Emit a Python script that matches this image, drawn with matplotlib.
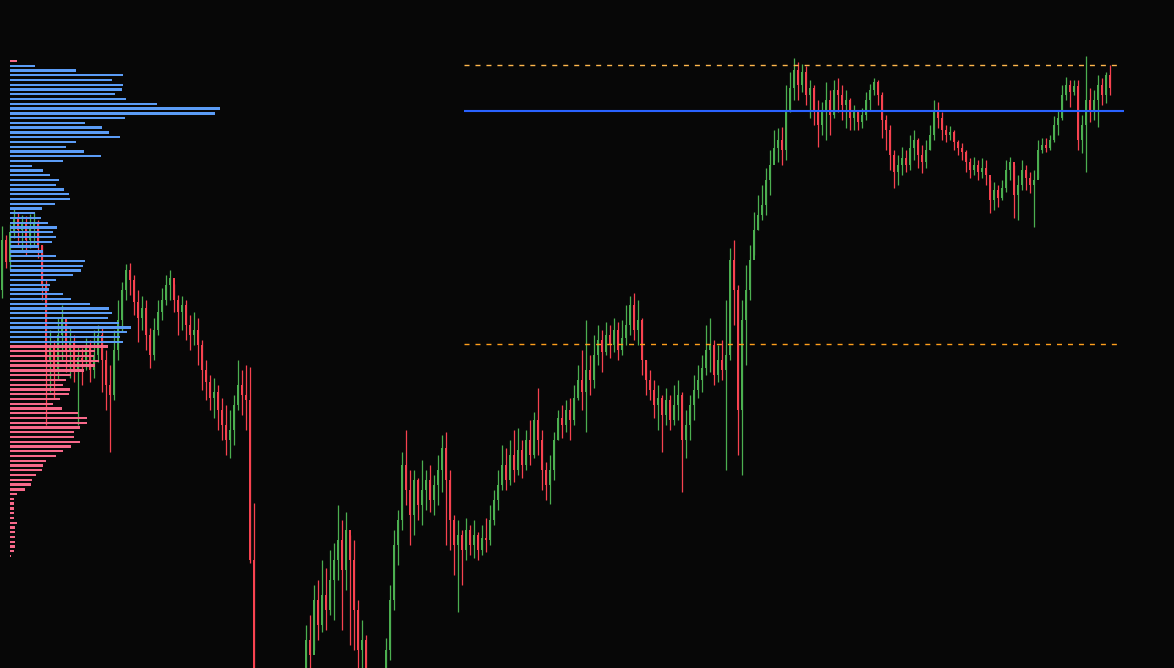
import numpy as np
import matplotlib
matplotlib.use('Agg')
import matplotlib.pyplot as plt

# K线数据 (价格单位任意, 只看形态)
first_open = 710
closes = [760, 738, 768, 782, 770, 778, 760, 772, 778, 755,
          715, 640, 655, 628, 665, 682, 650, 658, 630, 642,
          638, 655, 630, 645, 665, 640, 615, 605, 650, 680,
          710, 730, 720, 698, 682, 692, 665, 645, 670, 688,
          700, 715, 722, 700, 688, 695, 675, 665, 670, 655,
          630, 618, 602, 608, 590, 575, 560, 570, 595, 615,
          605, 600, 440, 310, 300, 290, 295, 285, 300, 310,
          305, 300, 310, 315, 320, 324, 360, 345, 400, 375,
          405, 390, 420, 440, 460, 430, 470, 440, 390, 350,
          360, 310, 300, 290, 305, 310, 350, 400, 455, 480,
          535, 510, 485, 520, 495, 510, 520, 500, 515, 530,
          552, 520, 480, 455, 465, 450, 470, 455, 465, 450,
          462, 460, 480, 500, 515, 535, 520, 545, 530, 550,
          535, 560, 545, 580, 560, 530, 515, 530, 560, 582,
          575, 590, 580, 602, 620, 608, 630, 620, 645, 660,
          648, 665, 655, 670, 650, 662, 675, 695, 670, 680,
          640, 620, 610, 595, 602, 585, 600, 580, 595, 605,
          560, 575, 595, 610, 620, 632, 650, 655, 625, 640,
          630, 645, 740, 710, 590, 680, 710, 740, 770, 785,
          795, 820, 835, 852, 860, 850, 890, 912, 930, 915,
          928, 905, 912, 890, 875, 890, 900, 885, 910, 905,
          895, 900, 882, 888, 878, 885, 900, 910, 918, 905,
          880, 870, 845, 828, 835, 842, 835, 852, 860, 845,
          838, 850, 865, 890, 882, 870, 865, 868, 858, 852,
          848, 838, 830, 835, 828, 832, 825, 800, 810, 802,
          812, 830, 838, 805, 815, 830, 822, 815, 820, 850,
          855, 852, 860, 875, 882, 905, 915, 908, 914, 860,
          875, 900, 890, 900, 915, 905, 925, 912]
highs = [774, 765, 776, 792, 788, 785, 784, 786, 788, 780,
         755, 720, 670, 660, 682, 695, 680, 672, 665, 655,
         652, 662, 660, 670, 675, 672, 650, 635, 670, 700,
         718, 736, 737, 725, 710, 704, 700, 672, 682, 700,
         712, 725, 730, 716, 705, 704, 700, 685, 688, 682,
         660, 640, 625, 622, 615, 602, 595, 590, 605, 640,
         630, 635, 633, 497, 320, 310, 310, 302, 305, 315,
         314, 310, 316, 320, 326, 330, 375, 385, 415, 420,
         440, 432, 450, 457, 495, 480, 488, 465, 460, 400,
         380, 365, 318, 305, 312, 318, 362, 415, 470, 490,
         548, 570, 530, 530, 522, 540, 530, 535, 525, 545,
         565, 568, 530, 485, 480, 470, 482, 475, 480, 468,
         475, 482, 495, 510, 530, 555, 552, 560, 570, 572,
         560, 570, 580, 588, 612, 570, 538, 545, 568, 590,
         595, 600, 602, 615, 635, 650, 680, 645, 665, 675,
         670, 678, 675, 682, 678, 680, 695, 704, 707, 700,
         682, 640, 630, 620, 615, 605, 612, 605, 615, 620,
         608, 590, 605, 625, 635, 645, 675, 682, 660, 655,
         660, 700, 752, 760, 715, 700, 735, 755, 788, 805,
         815, 832, 850, 870, 872, 873, 915, 928, 942, 938,
         936, 934, 920, 915, 900, 898, 918, 910, 920, 922,
         915, 910, 902, 895, 890, 892, 908, 916, 922, 920,
         908, 885, 875, 850, 845, 853, 850, 865, 870, 862,
         855, 860, 875, 900, 898, 888, 875, 874, 870, 860,
         857, 850, 842, 843, 840, 842, 840, 820, 818, 815,
         820, 840, 843, 835, 825, 840, 835, 828, 830, 860,
         862, 862, 865, 884, 890, 915, 923, 920, 920, 920,
         885, 944, 912, 910, 925, 922, 928, 935]
lows = [702, 732, 730, 762, 754, 750, 744, 752, 755, 742,
        700, 575, 608, 602, 620, 640, 628, 622, 618, 575,
        615, 630, 618, 622, 638, 608, 590, 548, 600, 640,
        668, 700, 705, 685, 658, 670, 650, 632, 640, 665,
        680, 695, 700, 688, 665, 670, 660, 650, 655, 635,
        610, 600, 590, 582, 570, 560, 545, 542, 555, 590,
        585, 570, 437, 300, 292, 282, 284, 278, 280, 294,
        298, 292, 295, 304, 308, 312, 310, 318, 350, 360,
        368, 370, 385, 380, 420, 370, 410, 355, 350, 320,
        310, 300, 290, 282, 285, 298, 300, 340, 390, 435,
        470, 495, 455, 465, 480, 475, 490, 488, 485, 495,
        508, 455, 450, 425, 388, 415, 440, 445, 442, 440,
        445, 448, 455, 475, 490, 510, 510, 515, 518, 525,
        522, 530, 535, 542, 545, 510, 500, 496, 520, 560,
        562, 568, 560, 575, 600, 590, 568, 605, 612, 635,
        628, 645, 642, 648, 640, 645, 655, 665, 660, 655,
        625, 605, 600, 582, 570, 548, 575, 570, 575, 580,
        508, 542, 560, 580, 602, 608, 625, 628, 615, 618,
        620, 530, 640, 675, 545, 525, 635, 700, 745, 770,
        780, 785, 805, 840, 838, 835, 840, 888, 900, 900,
        908, 895, 882, 875, 853, 865, 860, 865, 882, 888,
        880, 872, 870, 870, 870, 872, 880, 890, 905, 895,
        862, 850, 830, 812, 815, 825, 828, 830, 840, 832,
        827, 832, 850, 860, 872, 860, 858, 860, 850, 845,
        840, 828, 822, 825, 820, 822, 815, 787, 790, 793,
        800, 808, 820, 782, 780, 810, 810, 807, 773, 822,
        847, 848, 850, 858, 865, 880, 900, 893, 905, 850,
        847, 828, 878, 880, 873, 895, 897, 905]

# 成交量分布 (从上到下, 价格 939 -> 444)
profile_top, profile_bottom = 939, 444
profile_vol = [7, 25, 66, 113, 102, 113, 112, 105, 116, 147,
               210, 205, 115, 75, 92, 99, 110, 66, 56, 74,
               91, 53, 22, 33, 40, 49, 46, 54, 59, 60,
               45, 32, 25, 31, 38, 47, 43, 46, 42, 29,
               33, 46, 75, 73, 71, 63, 46, 40, 39, 53,
               61, 80, 99, 102, 98, 109, 121, 117, 110, 113,
               98, 85, 84, 89, 85, 74, 61, 56, 53, 60,
               59, 50, 43, 52, 68, 77, 77, 70, 64, 64,
               70, 61, 53, 46, 36, 33, 32, 26, 22, 21,
               15, 7, 4, 4, 4, 4, 4, 7, 5, 5,
               5, 5, 5, 4, 1]

# 价值区域 / POC
vah = 934.7
poc = 889.3
val = 655.7
session_start = 115.5

bg = '#070707'
up_c = '#4caf50'
dn_c = '#f7424f'

fig = plt.figure(figsize=(11.74, 6.68), dpi=100, facecolor=bg)
ax = fig.add_axes([0, 0, 1, 1])
ax.set_facecolor(bg)

closes = np.array(closes, dtype=float)
opens = np.r_[first_open, closes[:-1]]
x = np.arange(len(closes))
colors = np.where(closes >= opens, up_c, dn_c)

ax.vlines(x, lows, highs, colors=colors, lw=0.9, zorder=2)
ax.bar(x, closes - opens, bottom=opens, width=0.7, color=colors, zorder=3)

n = len(closes)
ax.hlines(vah, session_start, n + 1.5, colors='#ffb74d', lw=1.0,
          linestyles=(0, (3.6, 4.3)), zorder=5)
ax.hlines(val, session_start, n + 1.5, colors='#ff9f1c', lw=1.0,
          linestyles=(0, (3.6, 4.3)), zorder=5)
ax.hlines(poc, session_start, n + 2.5, colors='#2962ff', lw=1.5, zorder=5)

ax.set_xlim(-0.5, 293.0)
ax.set_ylim(332, 1000)
ax.axis('off')

# 左侧成交量分布
ax2 = fig.add_axes([0, 0, 1, 1], zorder=4)
ax2.patch.set_alpha(0)
levels = np.linspace(profile_top, profile_bottom, len(profile_vol))
bar_c = ['#5b9cf6' if val <= lv <= vah else '#f7698a' for lv in levels]
ax2.barh(levels, profile_vol, height=2.3, left=0, color=bar_c)
ax2.set_xlim(-10, 1164)
ax2.set_ylim(332, 1000)
ax2.axis('off')

fig.savefig('out.png', dpi=100, facecolor=bg)
